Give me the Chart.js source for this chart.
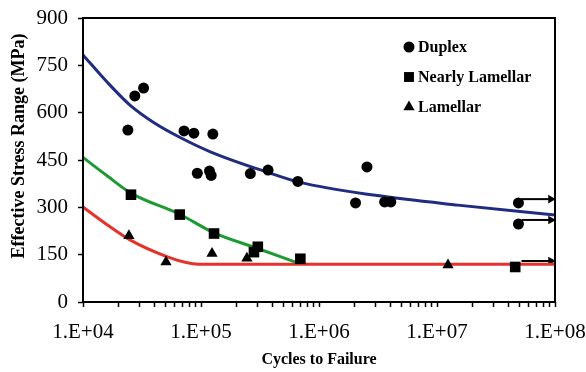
<!DOCTYPE html>
<html>
<head>
<meta charset="utf-8">
<script src="https://cdn.jsdelivr.net/npm/chart.js@4.4.1/dist/chart.umd.min.js"></script>
<style>
  body { margin: 0; background: #fff; }
  #wrap { width: 586px; height: 372px; position: relative; }
</style>
</head>
<body>
<div id="wrap"><canvas id="snChart"></canvas></div>
<script>
// Dados
const seriesNames = ['Duplex', 'Nearly Lamellar', 'Lamellar'];

const duplexCycles = [24000, 27500, 32600, 71800, 87000, 126000, 93000, 118000, 122000, 262000, 370000, 662000, 2550000, 2040000, 3600000, 4060000, 49000000, 49000000];
const duplexStress = [545, 653, 678, 542, 535, 532, 408, 415, 401, 407, 418, 382, 428, 314, 317, 317, 314, 247];

const nearlyCycles = [25500, 66000, 129000, 281000, 303000, 695000, 46000000];
const nearlyStress = [340, 277, 217, 158, 175, 137, 111];

const lamellarCycles = [24500, 50500, 124000, 245000, 12400000];
const lamellarStress = [210, 127, 154, 139, 117];

// Curvas de ajuste
const duplexFitCycles = [1e4, 1.6e4, 2.5e4, 4e4, 6.6e4, 1.2e5, 3.6e5, 6.9e5, 3e6, 1.5e7, 1e8];
const duplexFitStress = [783, 697, 624, 568, 522, 476, 412, 379, 338, 307, 276];

const nearlyFitCycles = [1e4, 1.6e4, 2.55e4, 6.6e4, 1.29e5, 2.9e5, 6.5e5];
const nearlyFitStress = [458, 400, 345, 278, 219, 172, 125];

const lamellarFitCycles = [1e4, 1.6e4, 2.5e4, 5.2e4, 7.5e4, 9.5e4, 1e8];
const lamellarFitStress = [301, 245, 197, 143, 125, 120, 120];

// Ensaios interrompidos (setas)
const runoutStress = [326, 260, 130];
const runoutFrom = 5.2e7;
const runoutTo = 9.2e7;

// Eixos
const xTickValues = [1e4, 1e5, 1e6, 1e7, 1e8];
const xTickLabels = ['1.E+04', '1.E+05', '1.E+06', '1.E+07', '1.E+08'];
const yTickValues = [0, 150, 300, 450, 600, 750, 900];
const yTickLabels = ['0', '150', '300', '450', '600', '750', '900'];

const xMinorTicks = [];
for (let i = 0; i < xTickValues.length - 1; i++) {
    for (let m = 1; m < 10; m++) xMinorTicks.push(m * xTickValues[i]);
}
xMinorTicks.push(xTickValues[xTickValues.length - 1]);

const pts = (xs, ys) => xs.map((x, i) => ({ x: x, y: ys[i] }));

Chart.defaults.font.family = "'Liberation Serif', 'Times New Roman', serif";
Chart.defaults.color = '#000';

const markerStyles = ['circle', 'rect', 'triangle'];
const markerRadius = [5.5, 7, 6.5];

// Moldura do gráfico + legenda + título do eixo Y
const framePlugin = {
    id: 'frame',
    afterDraw(chart) {
        const { ctx, chartArea: a } = chart;
        ctx.save();
        ctx.strokeStyle = '#000';
        ctx.lineWidth = 2;
        ctx.strokeRect(a.left, a.top, a.right - a.left, a.bottom - a.top);

        // legenda
        ctx.font = 'bold 16px "Liberation Serif", serif';
        ctx.textBaseline = 'middle';
        ctx.textAlign = 'left';
        ctx.fillStyle = '#000';
        seriesNames.forEach((name, i) => {
            const mx = a.right - 146;
            const my = a.top + 29 + i * 30;
            Chart.helpers.drawPoint(ctx, {
                pointStyle: markerStyles[i], radius: markerRadius[i], rotation: 0, borderWidth: 0
            }, mx, my);
            ctx.fillText(name, mx + 9, my + 1);
        });

        // título do eixo Y
        ctx.translate(19, 146);
        ctx.rotate(-Math.PI / 2);
        ctx.textAlign = 'center';
        ctx.font = 'bold 18px "Liberation Serif", serif';
        ctx.fillText('Effective Stress Range (MPa)', 0, 0);
        ctx.restore();
    }
};

const datasets = [
    {
        label: seriesNames[0], data: pts(duplexCycles, duplexStress),
        pointStyle: 'circle', pointRadius: 5.5, backgroundColor: '#000', borderColor: '#000', pointBorderWidth: 0
    },
    {
        label: seriesNames[1], data: pts(nearlyCycles, nearlyStress),
        pointStyle: 'rect', pointRadius: 7.5, backgroundColor: '#000', borderColor: '#000', pointBorderWidth: 0
    },
    {
        label: seriesNames[2], data: pts(lamellarCycles, lamellarStress),
        pointStyle: 'triangle', pointRadius: 6.5, backgroundColor: '#000', borderColor: '#000', pointBorderWidth: 0
    },
    {
        label: 'Duplex fit', data: pts(duplexFitCycles, duplexFitStress), showLine: true,
        borderColor: '#1f2c80', borderWidth: 3, pointRadius: 0, cubicInterpolationMode: 'monotone'
    },
    {
        label: 'Nearly Lamellar fit', data: pts(nearlyFitCycles, nearlyFitStress), showLine: true,
        borderColor: '#1e9a34', borderWidth: 3, pointRadius: 0, cubicInterpolationMode: 'monotone'
    },
    {
        label: 'Lamellar fit', data: pts(lamellarFitCycles, lamellarFitStress), showLine: true,
        borderColor: '#e5322b', borderWidth: 3, pointRadius: 0, cubicInterpolationMode: 'monotone'
    }
];

runoutStress.forEach((s) => {
    datasets.push({
        label: 'runout', data: [{ x: runoutFrom, y: s }, { x: runoutTo, y: s }], showLine: true,
        borderColor: '#000', backgroundColor: '#000', borderWidth: 2,
        pointRadius: [0, 5], pointStyle: 'triangle', rotation: 90, pointBorderWidth: 0
    });
});

new Chart(document.getElementById('snChart'), {
    type: 'scatter',
    data: { datasets: datasets },
    options: {
        responsive: true,
        maintainAspectRatio: false,
        animation: false,
        layout: { padding: { left: 0, right: 31, top: 18, bottom: 0 } },
        plugins: {
            legend: { display: false },
            tooltip: { enabled: false }
        },
        scales: {
            x: {
                type: 'logarithmic',
                min: 1e4,
                max: 1e8,
                afterFit(scale) {
                    scale.height = 70;
                    scale.paddingLeft = 0;
                    scale.paddingRight = 0;
                },
                afterBuildTicks(scale) { scale.ticks = xMinorTicks.map(v => ({ value: v })); },
                ticks: {
                    autoSkip: false,
                    maxRotation: 0,
                    padding: 13,
                    font: { size: 21 },
                    callback(value) {
                        const i = xTickValues.indexOf(value);
                        return i >= 0 ? xTickLabels[i] : '';
                    }
                },
                grid: { drawOnChartArea: false, drawTicks: true, tickLength: 5, tickColor: '#000', tickWidth: 1.5 },
                border: { display: false },
                title: {
                    display: true,
                    text: 'Cycles to Failure',
                    font: { size: 16, weight: 'bold' },
                    padding: { top: 0, bottom: 3 }
                }
            },
            y: {
                min: 0,
                max: 900,
                afterFit(scale) {
                    scale.width = 83;
                    scale.paddingTop = 0;
                    scale.paddingBottom = 0;
                },
                ticks: {
                    stepSize: 75,
                    padding: 10,
                    font: { size: 21 },
                    callback(value) {
                        const i = yTickValues.indexOf(value);
                        return i >= 0 ? yTickLabels[i] : '';
                    }
                },
                grid: { drawOnChartArea: false, drawTicks: true, tickLength: 5, tickColor: '#000', tickWidth: 1.5 },
                border: { display: false }
            }
        }
    },
    plugins: [framePlugin]
});
</script>
</body>
</html>
